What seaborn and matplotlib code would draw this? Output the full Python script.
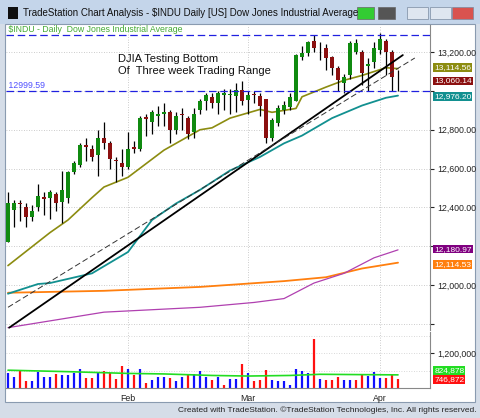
import matplotlib
matplotlib.use('Agg')
import matplotlib.pyplot as plt
import numpy as np
import pandas as pd
import seaborn as sns
from matplotlib.patches import Rectangle

# daily OHLC, $INDU, Jan 3 - Apr 5
opens = [12220, 12385, 12420, 12400, 12350, 12400, 12455, 12450, 12470, 12430,
         12450, 12580, 12620, 12720, 12700, 12670, 12760, 12730, 12645, 12630,
         12610, 12710, 12700, 12865, 12840, 12870, 12880, 12890, 12800, 12880,
         12860, 12790, 12900, 12950, 12970, 12940, 12980, 12980, 12975, 13005,
         12955, 12985, 12975, 12960, 12760, 12835, 12900, 12915, 12950, 13175,
         13195, 13255, 13225, 13220, 13175, 13120, 13040, 13080, 13200, 13200,
         13130, 13150, 13210, 13260, 13200, 13060]
closes = [12420, 12420, 12415, 12350, 12380, 12460, 12445, 12480, 12420, 12490,
          12580, 12630, 12720, 12710, 12660, 12760, 12730, 12650, 12640, 12610,
          12700, 12700, 12860, 12855, 12890, 12880, 12890, 12800, 12870, 12875,
          12780, 12880, 12950, 12980, 12940, 12990, 12990, 12985, 13005, 12950,
          12980, 12980, 12925, 12760, 12850, 12910, 12930, 12970, 13185, 13195,
          13250, 13220, 13226, 13170, 13120, 13055, 13070, 13245, 13245, 13095,
          13140, 13220, 13270, 13200, 13070, 13060]
highs = [12480, 12440, 12440, 12420, 12410, 12520, 12480, 12490, 12480, 12590,
         12590, 12640, 12730, 12760, 12720, 12800, 12840, 12740, 12660, 12700,
         12790, 12740, 12870, 12880, 12900, 12920, 12940, 12900, 12890, 12910,
         12870, 12910, 12960, 12990, 12990, 13000, 13010, 13010, 13040, 13050,
         13000, 13000, 12990, 12960, 12860, 12930, 12950, 12990, 13190, 13230,
         13260, 13290, 13250, 13240, 13180, 13130, 13090, 13260, 13270, 13210,
         13170, 13250, 13300, 13270, 13210, 13110]
lows = [12220, 12300, 12330, 12300, 12330, 12380, 12360, 12340, 12380, 12320,
        12420, 12570, 12610, 12640, 12640, 12560, 12700, 12600, 12530, 12560,
        12600, 12680, 12690, 12770, 12780, 12820, 12820, 12730, 12780, 12800,
        12750, 12760, 12880, 12900, 12910, 12880, 12900, 12880, 12890, 12930,
        12880, 12940, 12870, 12730, 12740, 12820, 12880, 12900, 12950, 13160,
        13180, 13200, 13160, 13110, 13080, 13000, 12990, 13060, 13190, 13030,
        13000, 13120, 13190, 13080, 13000, 13000]

# volume (thousands) and bar colour (b = up, r = down)
volume = [853, 783, 888, 724, 724, 871, 794, 794, 841, 830, 830, 853, 930, 765, 765,
          871, 900, 853, 753, 977, 930, 824, 930, 694, 741, 794, 794, 765, 712, 783,
          830, 841, 900, 794, 741, 783, 653, 753, 753, 1018, 853, 724, 736, 912, 741,
          724, 724, 653, 930, 883, 859, 1441, 753, 741, 741, 783, 741, 741, 741, 841,
          800, 871, 771, 771, 824, 747]
vol_dir = "bbrrbbbbrbbbbrrbrrrrbrbrbbbrbbrbbbrbrbbrbrrrbbbbbbbrbrrrbbrrbbbrrr"
vol_ma_idx = [0, 10, 20, 26, 34, 40, 47, 52, 58, 65]
vol_ma = [905, 880, 850, 841, 815, 805, 815, 835, 830, 825]

# moving averages read at selected bars
ma_olive_idx = [0, 7, 10, 14, 16, 20, 26, 32, 34, 37, 42, 44, 48, 49, 53, 56, 59, 63, 65]
ma_olive = [12100, 12270, 12335, 12450, 12505, 12555, 12695, 12800, 12810, 12860,
            12905, 12890, 12910, 12970, 13020, 13055, 13080, 13120, 13115]
ma_teal_idx = [0, 5, 7, 14, 20, 24, 28, 32, 37, 42, 46, 49, 54, 59, 63, 65]
ma_teal = [11955, 12005, 12010, 12060, 12170, 12335, 12420, 12490, 12590, 12660,
           12730, 12770, 12860, 12925, 12965, 12976]
ma_purple_idx = [0, 16, 32, 41, 46, 51, 56, 61, 65]
ma_purple = [11780, 11860, 11885, 11910, 11930, 12010, 12060, 12140, 12181]
ma_orange_idx = [0, 16, 32, 46, 53, 59, 65]
ma_orange = [11960, 11970, 11990, 12020, 12040, 12085, 12115]

# hand-drawn trend lines (index, price)
trend_solid = ([0.2, 65.8], [11780, 13185])
trend_dash = ([0, 67.8], [11885, 13170])
range_top = 13290
range_bottom = 12999.59

month_pos = [20, 40, 62]
month_lab = ['Feb', 'Mar', 'Apr']

sns.set_style('white')
plt.rcParams['font.family'] = ['Liberation Sans', 'DejaVu Sans']

fig = plt.figure(figsize=(4.8, 4.18), dpi=100, facecolor='#d5dde8')
W, H = 480, 418

def fr(x0, y0, x1, y1):
    return [x0 / W, 1 - y1 / H, (x1 - x0) / W, (y1 - y0) / H]

def box(x0, y0, w, h, fc, ec='none', lw=0.5):
    fig.patches.append(Rectangle((x0 / W, 1 - (y0 + h) / H), w / W, h / H, transform=fig.transFigure,
                                 facecolor=fc, edgecolor=ec, lw=lw, zorder=-10))

# window chrome
box(0, 0, 480, 24, '#c4d5ea')
box(5, 24, 470, 378, 'white', '#8a9bb0', 0.8)
box(8, 7, 10, 12, '#101010')
fig.text(23 / W, 1 - 13 / H, 'TradeStation Chart Analysis - $INDU Daily [US] Dow Jones Industrial Average',
         fontsize=7, va='center', color='#111111')
box(357, 7, 17, 12, '#33cc33', '#666666')
box(378, 7, 17, 12, '#555555', '#666666')
box(407, 7, 21, 12, '#dfe6f0', '#7a8aa0')
box(430, 7, 21, 12, '#dfe6f0', '#7a8aa0')
box(452, 7, 21, 12, '#d9534f', '#7a8aa0')
fig.text(1 - 3 / W, 4 / H, 'Created with TradeStation. \u00a9TradeStation Technologies, Inc. All rights reserved.',
         fontsize=6, ha='right', va='bottom', color='#222222')

x = np.arange(len(closes))
xlim = (-0.33, 70.33)

# ---- price panel
ax = fig.add_axes(fr(6, 25, 430, 330))
ax.patch.set_alpha(0)
ax.set_xlim(*xlim)
ax.set_ylim(11768, 13340)
for yv in range(11800, 13300, 200):
    ax.axhline(yv, color='#bbbbbb', ls=(0, (1, 2)), lw=0.6)
for mp in month_pos:
    ax.axvline(mp, color='#bbbbbb', ls=(0, (1, 2)), lw=0.6)

df = pd.DataFrame({'x': x, 'o': opens, 'c': closes, 'h': highs, 'l': lows})
up = df['c'] >= df['o']
ax.vlines(df['x'], df['l'], df['h'], color='black', lw=0.9, zorder=3)
body = (df['c'] - df['o']).abs().clip(lower=4)
ax.bar(df['x'], body, bottom=df[['o', 'c']].min(axis=1), width=0.7,
       color=np.where(up, '#108a10', '#8b1010'), edgecolor='none', zorder=4)

sns.lineplot(x=ma_orange_idx, y=ma_orange, ax=ax, color='#ff7f0e', lw=1.3, zorder=2)
sns.lineplot(x=ma_purple_idx, y=ma_purple, ax=ax, color='#b040b0', lw=0.9, zorder=2)
sns.lineplot(x=ma_teal_idx, y=ma_teal, ax=ax, color='#129090', lw=1.3, zorder=2)
sns.lineplot(x=ma_olive_idx, y=ma_olive, ax=ax, color='#8c8c10', lw=1.2, zorder=2)
ax.plot(*trend_solid, color='black', lw=1.3, zorder=5)
ax.plot(*trend_dash, color='#333333', lw=0.7, ls=(0, (6, 3)), zorder=5)
ax.axhline(range_top, color='#2020e0', lw=0.9, ls=(0, (6, 3)), zorder=6)
ax.axhline(range_bottom, color='#2020e0', lw=0.9, ls=(0, (6, 3)), zorder=6)

ax.text(0.0, 1.0, ' $INDU - Daily  Dow Jones Industrial Average', transform=ax.transAxes,
        fontsize=6.3, color='#44aa33', va='top')
ax.text(0.0, range_bottom + 5, ' 12999.59', fontsize=6.3, color='#5050ff', va='bottom',
        transform=ax.get_yaxis_transform())
ax.text(0.265, 0.905, 'DJIA Testing Bottom\nOf  Three week Trading Range', transform=ax.transAxes,
        fontsize=8, color='#111111', va='top', linespacing=1.3)

ax.yaxis.tick_right()
ax.set_yticks(range(11800, 13400, 200))
ax.set_yticklabels(['' if v in (11800, 12200, 13000) else f'{v:,.2f}' for v in range(11800, 13400, 200)],
                   fontsize=6.3, color='#222222')
ax.tick_params(axis='y', length=3, pad=2, right=True)
ax.set_xticks([])
for s in ['top', 'left', 'bottom']:
    ax.spines[s].set_visible(False)
ax.spines['right'].set_color('#888888')

tags = [(13114.56, 13122, '#8c8c10'), (13060.14, 13052, '#8b1010'), (12976.20, 12970, '#129090'),
        (12180.97, 12185, '#800080'), (12114.53, 12105, '#ff7f0e')]
for val, yy, col in tags:
    ax.text(1.01, yy, f'{val:,.2f}', transform=ax.get_yaxis_transform(), fontsize=6,
            color='white', va='center', ha='left',
            bbox=dict(boxstyle='square,pad=0.1', fc=col, ec='none'))

# ---- volume panel
av = fig.add_axes(fr(6, 332, 430, 388))
av.patch.set_alpha(0)
av.set_xlim(*xlim)
av.set_ylim(600, 1560)
for yv in [900, 1200, 1500]:
    av.axhline(yv, color='#cccccc', ls=(0, (1, 2)), lw=0.6)
for mp in month_pos:
    av.axvline(mp, color='#bbbbbb', ls=(0, (1, 2)), lw=0.6)
vcol = ['#1010ff' if d == 'b' else '#ff1010' for d in vol_dir]
av.vlines(x, 600, volume, colors=vcol, lw=1.6)
sns.lineplot(x=vol_ma_idx, y=vol_ma, ax=av, color='#22dd22', lw=1.2)
av.yaxis.tick_right()
av.set_yticks([1200])
av.set_yticklabels(['1,200,000'], fontsize=6.3, color='#222222')
av.tick_params(axis='y', length=3, pad=2)
av.set_xticks(month_pos)
av.set_xticklabels(month_lab, fontsize=6.3, color='#222222')
av.tick_params(axis='x', length=3, pad=1.5)
for s in ['top', 'left']:
    av.spines[s].set_visible(False)
av.spines['right'].set_color('#888888')
av.spines['bottom'].set_color('#888888')
for val, yy, col in [(824.878, 900, '#22dd22'), (746.872, 745, '#ff1010')]:
    av.text(1.01, yy, f'{int(round(val * 1000)):,}',
            transform=av.get_yaxis_transform(), fontsize=6, color='white', va='center',
            bbox=dict(boxstyle='square,pad=0.1', fc=col, ec='none'))

fig.savefig('out.png', dpi=100, facecolor=fig.get_facecolor())
